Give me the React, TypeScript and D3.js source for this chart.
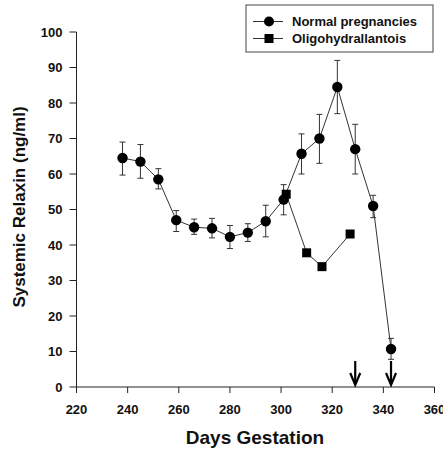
import React from "react";
import * as d3 from "d3";

const normalDays = [238, 245, 252, 259, 266, 273, 280, 287, 294, 301, 308, 315, 322, 329, 336, 343];
const normalValues = [64.5, 63.5, 58.5, 47, 45, 44.7, 42.3, 43.5, 46.7, 52.8, 65.7, 70, 84.5, 67, 51, 10.7];
const normalLow = [59.7, 58.8, 55.8, 43.8, 43, 42, 39, 41, 42.3, 48.5, 60, 63, 77, 60, 47.7, 7.8];
const normalHigh = [69, 68.3, 61.5, 49.7, 47.3, 47.5, 45.5, 46, 51.2, 57, 71.3, 76.8, 92, 74, 54, 13.7];

const oligoDays = [302, 310, 316, 327];
const oligoValues = [54.3, 37.8, 33.9, 43.1];

const arrowDays = [329, 343];

const xTicks = [220, 240, 260, 280, 300, 320, 340, 360];
const yTicks = [0, 10, 20, 30, 40, 50, 60, 70, 80, 90, 100];

const W = 443;
const H = 452;
const font = "'Liberation Sans', Arial, Helvetica, sans-serif";

export default function App() {
  const x = d3.scaleLinear().domain([220, 360]).range([76.5, 434.5]);
  const y = d3.scaleLinear().domain([0, 100]).range([387, 32]);

  const normalLine = d3
    .line<number>()
    .x((_, i) => x(normalDays[i]))
    .y((v) => y(v));
  const oligoLine = d3
    .line<number>()
    .x((_, i) => x(oligoDays[i]))
    .y((v) => y(v));

  const sq = 9;

  return (
    <svg
      width={W}
      height={H}
      style={{ position: "absolute", left: 0, top: 0, background: "#fff" }}
      fontFamily={font}
    >
      {/* axes */}
      <line x1={x(220)} x2={x(220)} y1={y(100)} y2={y(0)} stroke="#222" strokeWidth={1} />
      <line x1={x(220)} x2={x(360)} y1={y(0)} y2={y(0)} stroke="#222" strokeWidth={1} />
      {yTicks.map((t) => (
        <g key={"y" + t}>
          <line x1={x(220) - 7} x2={x(220)} y1={y(t)} y2={y(t)} stroke="#222" />
          <text
            x={x(220) - 14}
            y={y(t)}
            dy="0.35em"
            textAnchor="end"
            fontSize={13}
            fontWeight="bold"
            fill="#111"
          >
            {t}
          </text>
        </g>
      ))}
      {xTicks.map((t) => (
        <g key={"x" + t}>
          <line x1={x(t)} x2={x(t)} y1={y(0)} y2={y(0) + 6} stroke="#222" />
          <text
            x={x(t)}
            y={y(0) + 27}
            textAnchor="middle"
            fontSize={13}
            fontWeight="bold"
            fill="#111"
          >
            {t}
          </text>
        </g>
      ))}
      <text
        x={255}
        y={444}
        textAnchor="middle"
        fontSize={19}
        fontWeight="bold"
        fill="#111"
      >
        Days Gestation
      </text>
      <text
        transform={`translate(25,207) rotate(-90)`}
        textAnchor="middle"
        fontSize={17}
        fontWeight="bold"
        fill="#111"
      >
        Systemic Relaxin (ng/ml)
      </text>

      {/* error bars */}
      {normalDays.map((d, i) => (
        <g key={"e" + i} stroke="#333" strokeWidth={1}>
          <line x1={x(d)} x2={x(d)} y1={y(normalLow[i])} y2={y(normalHigh[i])} />
          <line x1={x(d) - 3} x2={x(d) + 3} y1={y(normalLow[i])} y2={y(normalLow[i])} />
          <line x1={x(d) - 3} x2={x(d) + 3} y1={y(normalHigh[i])} y2={y(normalHigh[i])} />
        </g>
      ))}

      {/* lines */}
      <path d={normalLine(normalValues) || ""} fill="none" stroke="#333" strokeWidth={1} />
      <path d={oligoLine(oligoValues) || ""} fill="none" stroke="#333" strokeWidth={1} />

      {/* markers */}
      {normalDays.map((d, i) => (
        <circle key={"c" + i} cx={x(d)} cy={y(normalValues[i])} r={5.2} fill="#000" />
      ))}
      {oligoDays.map((d, i) => (
        <rect
          key={"s" + i}
          x={x(d) - sq / 2}
          y={y(oligoValues[i]) - sq / 2}
          width={sq}
          height={sq}
          fill="#000"
        />
      ))}

      {/* arrows */}
      {arrowDays.map((d) => (
        <g key={"a" + d} stroke="#000" strokeWidth={2.2} fill="none">
          <line x1={x(d)} x2={x(d)} y1={y(0) - 26} y2={y(0) - 3} />
          <polyline
            points={`${x(d) - 5},${y(0) - 14} ${x(d)},${y(0) - 2} ${x(d) + 5},${y(0) - 14}`}
          />
        </g>
      ))}

      {/* legend */}
      <rect x={246} y={5} width={187} height={47} fill="#fff" stroke="#444" strokeWidth={1} />
      <line x1={253} x2={283} y1={21.5} y2={21.5} stroke="#333" />
      <circle cx={269} cy={21.5} r={5} fill="#000" />
      <text x={292} y={21.5} dy="0.35em" fontSize={13} fontWeight="bold" fill="#111">
        Normal pregnancies
      </text>
      <line x1={253} x2={283} y1={38.5} y2={38.5} stroke="#333" />
      <rect x={269 - 4.5} y={38.5 - 4.5} width={9} height={9} fill="#000" />
      <text x={292} y={38.5} dy="0.35em" fontSize={13} fontWeight="bold" fill="#111">
        Oligohydrallantois
      </text>
    </svg>
  );
}
